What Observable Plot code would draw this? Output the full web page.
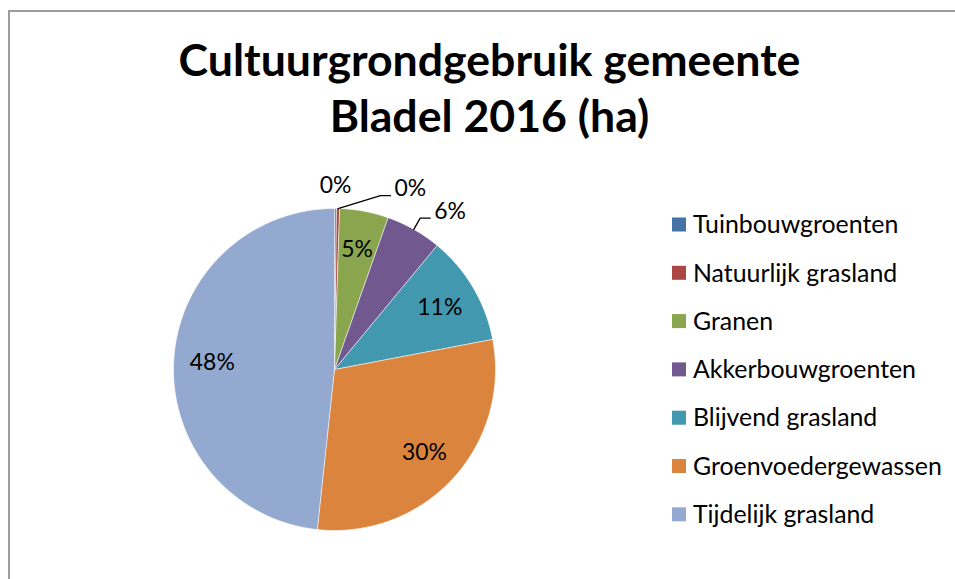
<!DOCTYPE html>
<html>
<head>
<meta charset="utf-8">
<script src="https://cdn.jsdelivr.net/npm/d3@7"></script>
<script src="https://cdn.jsdelivr.net/npm/@observablehq/plot@0.6"></script>
<style>
  html, body { margin: 0; padding: 0; background: #ffffff; }
  #wrap { position: relative; width: 955px; height: 579px; overflow: hidden; background: #ffffff; }
  #wrap > svg { position: absolute; left: 0; top: 0; }
</style>
</head>
<body>
<div id="wrap"></div>
<script>
// ---- data ----
const titleLines = ["Cultuurgrondgebruik gemeente", "Bladel 2016 (ha)"];
const categories = ["Tuinbouwgroenten", "Natuurlijk grasland", "Granen", "Akkerbouwgroenten", "Blijvend grasland", "Groenvoedergewassen", "Tijdelijk grasland"];
const shares = [0.2, 0.3, 4.9, 5.6, 11.0, 29.7, 48.3];   // percentage of total area
const colors = ["#4572a7", "#aa4643", "#89a54e", "#71588f", "#4198af", "#db843d", "#93a9cf"];
const labelModes = ["above", "leader", "inside", "leader", "inside", "inside", "inside"];

// ---- layout ----
const W = 955, H = 579;
const cx = 334, cy = 369, R = 161;
const FONT = "Lato, Carlito, 'Open Sans', sans-serif";

function fit(text, weight, target) {
  const ctx = document.createElement("canvas").getContext("2d");
  ctx.font = `${weight} 100px Lato`;
  return 100 * target / ctx.measureText(text).width;
}
const titleSize = fit(titleLines[0], "bold", 622);
const legendSize = fit("Groenvoedergewassen", "normal", 249);
const labelSize = fit("48%", "normal", 45);
const measure = (t, size) => { const c = document.createElement("canvas").getContext("2d"); c.font = `${size}px Lato`; return c.measureText(t).width; };

const total = d3.sum(shares);
const data = categories.map((c, i) => ({cat: c, v: shares[i], mode: labelModes[i]}));
const arcs = d3.pie().sort(null).value(d => d.v)(data);

// slice polygons in unit-circle coordinates (y up)
const slicePts = [];
for (const a of arcs) {
  slicePts.push({cat: a.data.cat, x: 0, y: 0});
  const n = Math.max(2, Math.ceil((a.endAngle - a.startAngle) / 0.01));
  for (let k = 0; k <= n; k++) {
    const t = a.startAngle + (a.endAngle - a.startAngle) * k / n;
    slicePts.push({cat: a.data.cat, x: Math.sin(t), y: Math.cos(t)});
  }
}

// labels (px offsets relative to centre, y up), with simple collision avoidance
const pct = d => Math.round(d.v / total * 100) + "%";
const insideLabels = [], aboveLabels = [], leaderLabels = [], leaderPts = [];
let prev = null; // {right, y}
arcs.forEach((a, i) => {
  const m = (a.startAngle + a.endAngle) / 2, s = Math.sin(m), c = Math.cos(m);
  const label = pct(a.data);
  const w = measure(label, labelSize);
  if (a.data.mode === "inside") {
    insideLabels.push({x: 0.76 * s, y: 0.76 * c, label});
  } else if (a.data.mode === "above") {
    const x = 1.14 * s, y = 1.14 * c;
    aboveLabels.push({x, y, label});
    prev = {right: x * R + w / 2, y: y * R};
  } else {
    let ex = 1.08 * s * R, ey = 1.08 * c * R;
    const ty = ey + 7;
    if (prev && Math.abs(ty - prev.y) < 0.8 * labelSize && ex < prev.right + 29) ex = prev.right + 29;
    leaderPts.push({id: i, x: s, y: c}, {id: i, x: ex / R, y: ey / R}, {id: i, x: (ex + 10) / R, y: ey / R});
    leaderLabels.push({x: (ex + 14) / R, y: ty / R, label});
    prev = {right: ex + 14 + w, y: ty};
  }
});

const chart = Plot.plot({
  width: W, height: H, margin: 0,
  style: {background: "transparent", overflow: "visible"},
  x: {domain: [-cx / R, (W - cx) / R], axis: null},
  y: {domain: [-(H - cy) / R, cy / R], axis: null},
  color: {domain: categories, range: colors},
  marks: [
    Plot.line(slicePts, {x: "x", y: "y", z: "cat", fill: "cat", stroke: "#ffffff", strokeWidth: 0.6, curve: "linear-closed"}),
    Plot.line(leaderPts, {x: "x", y: "y", z: "id", stroke: "#000000", strokeWidth: 1.3}),
    Plot.text(insideLabels, {x: "x", y: "y", text: "label", fontFamily: FONT, fontSize: labelSize, fill: "#000000"}),
    Plot.text(aboveLabels, {x: "x", y: "y", text: "label", fontFamily: FONT, fontSize: labelSize, fill: "#000000"}),
    Plot.text(leaderLabels, {x: "x", y: "y", text: "label", textAnchor: "start", fontFamily: FONT, fontSize: labelSize, fill: "#000000"})
  ]
});

const wrap = document.getElementById("wrap");
wrap.appendChild(chart);

// overlay: frame, title, legend
const colorScale = chart.scale("color");
const ov = d3.select(wrap).append("svg").attr("width", W).attr("height", H).style("pointer-events", "none");
ov.append("path").attr("d", `M9,${H + 5}V11H${W + 5}`).attr("fill", "none").attr("stroke", "#9d9d9d").attr("stroke-width", 2);
const tb = [76, 132];
titleLines.forEach((t, i) => {
  ov.append("text").attr("x", 489.5).attr("y", tb[i]).attr("text-anchor", "middle")
    .attr("font-family", FONT).attr("font-weight", "bold").attr("font-size", titleSize).attr("fill", "#000").text(t);
});
categories.forEach((c, i) => {
  const yc = 224.5 + i * 48.3;
  ov.append("rect").attr("x", 672).attr("y", yc - 7).attr("width", 14).attr("height", 14).attr("fill", colorScale.apply(c));
  ov.append("text").attr("x", 693).attr("y", yc).attr("dy", "0.35em")
    .attr("font-family", FONT).attr("font-size", legendSize).attr("fill", "#000").text(c);
});
</script>
</body>
</html>
